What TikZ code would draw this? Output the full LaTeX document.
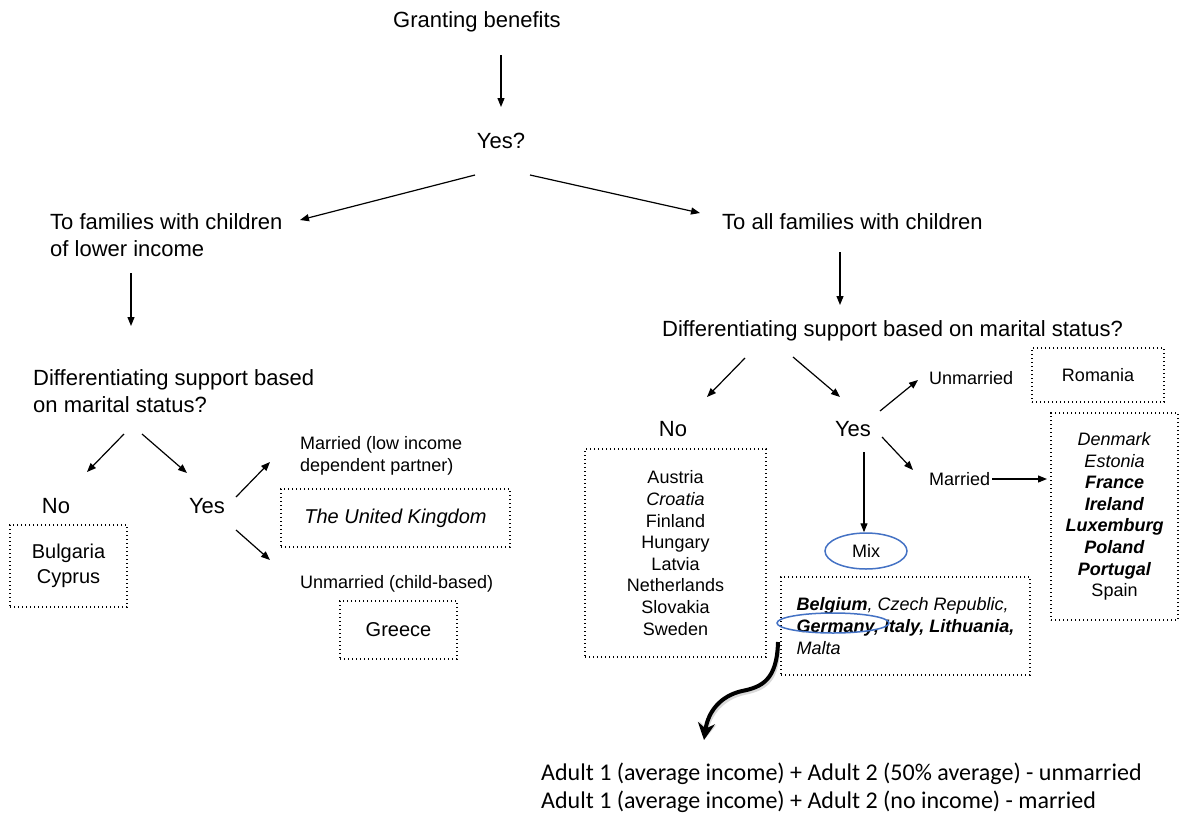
\documentclass[tikz,border=0pt]{standalone}
\usepackage{fontspec}
\setmainfont{Liberation Sans}
\newfontfamily\calfont{Carlito}
\usetikzlibrary{arrows.meta,shapes.geometric}
\definecolor{ellblue}{HTML}{4472C4}
\begin{document}
\begin{tikzpicture}[x=1pt,y=-1pt,
  t22/.style={font=\fontsize{22}{27}\selectfont, inner sep=0pt, align=left},
  t18/.style={font=\fontsize{18}{22}\selectfont, inner sep=0pt, align=left},
  t20/.style={font=\fontsize{20}{25}\selectfont, inner sep=0pt},
  tcal/.style={font=\calfont\fontsize{24}{28}\selectfont, inner sep=0pt, align=left},
  dotbox/.style={draw, line width=1.2pt, dash pattern=on 1.2pt off 2.8pt, inner sep=0pt, align=center},
  arr/.style={-{Triangle[length=9pt,width=7pt]}, line width=1.2pt},
  blueell/.style={draw=ellblue, line width=1.5pt, ellipse, inner sep=0pt}]
\useasboundingbox (0,0) rectangle (1180,814);

% ---------- top ----------
\node[t22, anchor=base] (gb) at (477,27) {Granting benefits};
\node[t22, anchor=base] (yesq) at (501,148) {Yes?};
\coordinate (gbOut) at (501,55);  \coordinate (yesqIn) at (501,107);
\draw[arr] (gbOut) -- (yesqIn);

% ---------- left branch ----------
\node[t22, anchor=base west] (left1) at (50,256) {To families with children\\of lower income};
\coordinate (yqL) at (475,175); \coordinate (leftIn) at (300,220);
\draw[arr] (yqL) -- (leftIn);
\coordinate (l1Out) at (131,273); \coordinate (l2In) at (131,326);
\draw[arr] (l1Out) -- (l2In);
\node[t22, anchor=base west] (left2) at (33,412) {Differentiating support based\\on marital status?};
\coordinate (l2a) at (124,434); \coordinate (noLIn) at (87,472);
\coordinate (l2b) at (142,434); \coordinate (yesLIn) at (187,473);
\draw[arr] (l2a) -- (noLIn);
\draw[arr] (l2b) -- (yesLIn);
\node[t22, anchor=base] (noL) at (56,513) {No};
\node[t22, anchor=base] (yesL) at (207,513) {Yes};
\node[dotbox, t20, align=center, minimum width=117, minimum height=82] (bgcy) at (68.5,566) {Bulgaria\\Cyprus};
\coordinate (yLa) at (236,497); \coordinate (marLIn) at (270,462);
\coordinate (yLb) at (236,530); \coordinate (unmLIn) at (270,560);
\draw[arr] (yLa) -- (marLIn);
\draw[arr] (yLb) -- (unmLIn);
\node[t18, anchor=base west] (marL) at (300,471) {Married (low income\\dependent partner)};
\node[dotbox, t20, minimum width=229, minimum height=58] (uk) at (395.5,518) {\itshape The United Kingdom};
\node[t18, anchor=base west] (unmL) at (300,588) {Unmarried (child-based)};
\node[dotbox, t20, minimum width=117, minimum height=58] (gr) at (398.5,630) {Greece};

% ---------- right branch ----------
\coordinate (yqR) at (530,175); \coordinate (rightIn) at (700,213);
\draw[arr] (yqR) -- (rightIn);
\node[t22, anchor=base west] (right1) at (722,229) {To all families with children};
\coordinate (r1Out) at (840,252); \coordinate (r2In) at (840,305);
\draw[arr] (r1Out) -- (r2In);
\node[t22, anchor=base west] (right2) at (662,336) {Differentiating support based on marital status?};
\coordinate (r2a) at (745,358); \coordinate (noRIn) at (707,397);
\coordinate (r2b) at (793,357); \coordinate (yesRIn) at (840,397);
\draw[arr] (r2a) -- (noRIn);
\draw[arr] (r2b) -- (yesRIn);
\node[t22, anchor=base] (noR) at (673,436) {No};
\node[t22, anchor=base] (yesR) at (853,436) {Yes};
\node[dotbox, font=\fontsize{18}{21.6}\selectfont, minimum width=181, minimum height=208] (nolist) at (675.5,553)
  {Austria\\\textit{Croatia}\\Finland\\Hungary\\Latvia\\Netherlands\\Slovakia\\Sweden};

\coordinate (yRa) at (880,411); \coordinate (unmRIn) at (918,380);
\coordinate (yRb) at (882,437); \coordinate (marRIn) at (913,470);
\draw[arr] (yRa) -- (unmRIn);
\draw[arr] (yRb) -- (marRIn);
\node[t18, anchor=base west] (unmR) at (929,384) {Unmarried};
\node[dotbox, font=\fontsize{18}{22}\selectfont, minimum width=132, minimum height=54] (ro) at (1098,375) {Romania};
\node[t18, anchor=base west] (marR) at (929,485) {Married};
\coordinate (marROut) at (992,479); \coordinate (dkIn) at (1047,479);
\draw[arr] (marROut) -- (dkIn);
\node[dotbox, font=\fontsize{18}{21.6}\selectfont, minimum width=127, minimum height=207] (dklist) at (1114.5,516.5)
  {\textit{Denmark}\\\textit{Estonia}\\\textbf{\textit{France}}\\\textbf{\textit{Ireland}}\\\textbf{\textit{Luxemburg}}\\\textbf{\textit{Poland}}\\\textbf{\textit{Portugal}}\\Spain};

% Mix
\coordinate (yRc) at (864,452);
\node[blueell, font=\fontsize{18}{22}\selectfont, minimum width=82, minimum height=36] (mix) at (866,551) {Mix};
\draw[arr] (yRc) -- (yRc |- mix.north);
\node[dotbox, font=\fontsize{18}{21.6}\selectfont, align=left, minimum width=249, minimum height=98] (mixlist) at (905.5,626)
  {\textbf{\textit{Belgium}}\textit{, Czech Republic,}\\\textbf{\textit{Germany, Italy, Lithuania,}}\\\textit{Malta}};
\node[blueell, minimum width=112, minimum height=20] (germ) at (833,623) {};

% curvy arrow
\coordinate (cvStart) at (778,642);
\coordinate (cvEnd) at (704,740);
\draw[line width=4pt, black!15, -{Stealth[length=17pt,width=17pt]}, shift={(2pt,-2pt)}]
  (cvStart) .. controls (777,680) and (762,687) .. (742,691) .. controls (720,696) and (708,712) .. (cvEnd);
\draw[line width=4pt, -{Stealth[length=17pt,width=17pt]}]
  (cvStart) .. controls (777,680) and (762,687) .. (742,691) .. controls (720,696) and (708,712) .. (cvEnd);

% bottom text
\node[tcal, anchor=base west] (bottom) at (541,808) {Adult 1 (average income) + Adult 2 (50\% average) - unmarried\\Adult 1 (average income) + Adult 2 (no income) - married};
\end{tikzpicture}
\end{document}
